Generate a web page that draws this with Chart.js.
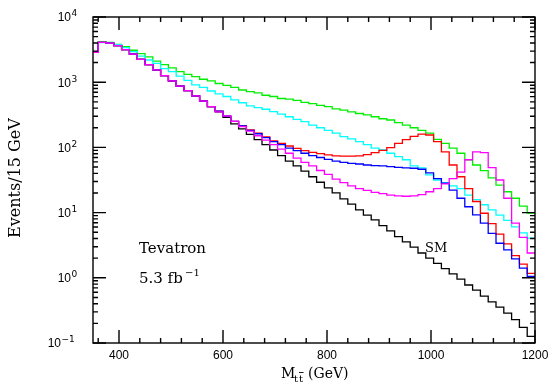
<!DOCTYPE html>
<html>
<head>
<meta charset="utf-8">
<script src="https://cdn.jsdelivr.net/npm/chart.js@4.4.1/dist/chart.umd.min.js"></script>
<style>
  html, body { margin: 0; padding: 0; background: #fff; }
  canvas { display: block; }
</style>
</head>
<body>
<canvas id="myChart" width="556" height="392"></canvas>
<script>
// 15 GeV bins, low edges 345 ... 1185, plus the last upper edge 1200
const binEdges = [345, 360, 375, 390, 405, 420, 435, 450, 465, 480, 495, 510, 525, 540, 555, 570, 585, 600,
  615, 630, 645, 660, 675, 690, 705, 720, 735, 750, 765, 780, 795, 810, 825, 840, 855, 870, 885, 900, 915,
  930, 945, 960, 975, 990, 1005, 1020, 1035, 1050, 1065, 1080, 1095, 1110, 1125, 1140, 1155, 1170, 1185, 1200];

const smValues = [2880, 4070, 3980, 3630, 3160, 2690, 2240, 1860, 1550, 1260,
  1050, 871, 741, 617, 513, 422, 351, 288, 229, 193,
  158, 132, 110, 91.2, 75.0, 61.7, 51.9, 43.2, 35.5, 29.2,
  24.0, 20.0, 16.2, 13.5, 11.0, 9.12, 7.76, 6.31, 5.25, 4.27,
  3.55, 2.95, 2.40, 2.00, 1.66, 1.38, 1.15, 0.955, 0.776, 0.646,
  0.525, 0.427, 0.355, 0.288, 0.229, 0.174, 0.126];

const greenValues = [2880, 4140, 4070, 3800, 3510, 3090, 2750, 2450, 2110, 1860,
  1660, 1450, 1320, 1220, 1110, 1050, 955, 891, 832, 759,
  716, 684, 631, 603, 562, 550, 525, 490, 468, 442,
  422, 389, 372, 351, 331, 316, 295, 275, 263, 240,
  219, 200, 182, 165, 133, 115, 97.7, 81.3, 64.6, 53.7,
  44.0, 34.0, 26.3, 20.9, 16.6, 12.6, 9.8];

const cyanValues = [2880, 4040, 4040, 3760, 3390, 2950, 2510, 2190, 1950, 1620,
  1450, 1240, 1070, 912, 832, 733, 661, 603, 537, 484,
  432, 407, 385, 355, 324, 295, 269, 248, 219, 200,
  182, 166, 146, 135, 123, 110, 97.7, 91.2, 81.3, 72.4,
  64.6, 51.9, 48.4, 38.0, 31.6, 28.8, 25.7, 23.4, 18.6, 15.8,
  13.2, 11.0, 9.12, 7.59, 6.03, 4.90, 4.07];

const redValues = [2880, 4070, 3980, 3630, 3160, 2690, 2240, 1860, 1550, 1260,
  1050, 871, 741, 617, 513, 422, 359, 302, 251, 214,
  186, 166, 145, 126, 115, 105, 96.6, 89.1, 84.1, 80.4,
  76.7, 74.1, 73.3, 73.3, 74.1, 77.6, 83.2, 90.2, 98.9, 115,
  132, 148, 160, 155, 123, 85.1, 53.7, 35.5, 23.4, 14.8,
  9.77, 6.76, 4.68, 3.31, 2.19, 1.62, 1.17];

const blueValues = [2880, 4070, 3980, 3630, 3160, 2690, 2240, 1860, 1550, 1260,
  1050, 871, 741, 617, 513, 422, 359, 302, 251, 214,
  182, 162, 141, 123, 110, 97.7, 89.1, 81.3, 75.0, 70.0,
  65.3, 61.7, 58.9, 56.9, 55.6, 53.7, 52.5, 51.9, 50.7, 49.5,
  48.4, 47.9, 46.2, 40.7, 33.1, 28.2, 22.1, 16.6, 12.3, 9.23,
  6.92, 4.79, 3.39, 2.69, 1.95, 1.41, 1.05];

const magentaValues = [2880, 4070, 3980, 3630, 3160, 2690, 2240, 1860, 1550, 1260,
  1050, 871, 741, 617, 513, 422, 351, 302, 251, 209,
  178, 151, 129, 110, 94.4, 81.3, 68.4, 58.9, 51.9, 44.2,
  38.5, 32.7, 28.8, 25.7, 23.4, 21.9, 20.4, 19.5, 18.6, 18.0,
  17.8, 18.0, 18.8, 20.9, 23.4, 27.5, 33.1, 41.7, 64.6, 85.1,
  83.2, 49.0, 31.6, 16.6, 6.92, 4.17, 2.40];

// axis ticks
const xTickValues = [360, 400, 440, 480, 520, 560, 600, 640, 680, 720, 760, 800, 840, 880, 920, 960,
  1000, 1040, 1080, 1120, 1160, 1200];
const xLabelValues = [400, 600, 800, 1000, 1200];
const yDecades = [0.1, 1, 10, 100, 1000, 10000];
const yExponents = ['\u22121', '0', '1', '2', '3', '4'];
const yMinorSteps = [2, 3, 4, 5, 6, 7, 8, 9];

function histPoints(values) {
  const pts = values.map((v, i) => ({ x: binEdges[i], y: v }));
  pts.push({ x: binEdges[binEdges.length - 1], y: values[values.length - 1] });
  return pts;
}

function hist(values, color, order) {
  return {
    data: histPoints(values),
    borderColor: color,
    borderWidth: 1.3,
    stepped: true,
    pointRadius: 0,
    fill: false,
    clip: 0,
    order: order
  };
}

const frame = {
  id: 'frame',
  afterDatasetsDraw(chart) {
    const { ctx, chartArea: a, scales: { x, y } } = chart;
    ctx.save();
    ctx.strokeStyle = '#000';
    ctx.lineWidth = 1.4;
    ctx.strokeRect(a.left, a.top, a.right - a.left, a.bottom - a.top);
    ctx.beginPath();
    xTickValues.forEach(v => {
      const px = x.getPixelForValue(v);
      const len = xLabelValues.includes(v) ? 13 : 5;
      ctx.moveTo(px, a.bottom); ctx.lineTo(px, a.bottom - len);
      ctx.moveTo(px, a.top); ctx.lineTo(px, a.top + len);
    });
    yDecades.forEach(d => {
      const py = y.getPixelForValue(d);
      ctx.moveTo(a.left, py); ctx.lineTo(a.left + 13, py);
      ctx.moveTo(a.right, py); ctx.lineTo(a.right - 13, py);
      if (d < 10000) {
        yMinorSteps.forEach(m => {
          const pm = y.getPixelForValue(d * m);
          ctx.moveTo(a.left, pm); ctx.lineTo(a.left + 5, pm);
          ctx.moveTo(a.right, pm); ctx.lineTo(a.right - 5, pm);
        });
      }
    });
    ctx.stroke();
    ctx.restore();
  },
  afterDraw(chart) {
    const { ctx, chartArea: a, scales: { x, y } } = chart;
    ctx.save();
    ctx.fillStyle = '#000';

    // x tick labels
    ctx.font = '12px "Liberation Sans"';
    ctx.textAlign = 'center';
    ctx.textBaseline = 'middle';
    xLabelValues.forEach(v => ctx.fillText(String(v), x.getPixelForValue(v), 356));

    // y tick labels 10^n
    ctx.textBaseline = 'middle';
    yDecades.forEach((d, i) => {
      const py = y.getPixelForValue(d);
      const exp = yExponents[i];
      const baseRight = exp.length > 1 ? 61 : 71;
      ctx.font = '12px "Liberation Sans"';
      ctx.textAlign = 'right';
      ctx.fillText('10', baseRight, py + 1);
      ctx.font = '9px "DejaVu Sans"';
      ctx.textAlign = 'left';
      ctx.fillText(exp, baseRight + 0.5, py - 3);
    });

    // axis titles
    ctx.font = '16px "DejaVu Serif"';
    ctx.textAlign = 'center';
    ctx.textBaseline = 'alphabetic';
    ctx.save();
    ctx.translate(20, 178);
    ctx.rotate(-Math.PI / 2);
    ctx.fillText('Events/15 GeV', 0, 0);
    ctx.restore();

    ctx.textAlign = 'left';
    ctx.font = '14px "DejaVu Serif"';
    ctx.fillText('M', 281, 378);
    ctx.font = '10px "DejaVu Serif"';
    ctx.fillText('t', 294, 382);
    ctx.fillText('t', 299, 382);
    ctx.beginPath();
    ctx.lineWidth = 0.9;
    ctx.moveTo(299, 372.5); ctx.lineTo(303.5, 372.5);
    ctx.stroke();
    ctx.font = '14px "DejaVu Serif"';
    ctx.fillText('(GeV)', 308, 378);

    // annotations
    ctx.font = '15px "DejaVu Serif"';
    ctx.fillText('Tevatron', 139, 253);
    ctx.fillText('5.3 fb', 139, 283);
    ctx.font = '10px "DejaVu Serif"';
    ctx.fillText('\u22121', 185, 276);
    ctx.font = '13px "DejaVu Serif"';
    ctx.fillText('SM', 425, 252);
    ctx.restore();
  }
};

new Chart(document.getElementById('myChart'), {
  type: 'line',
  data: {
    datasets: [
      hist(smValues, '#000000', 6),
      hist(greenValues, '#00ee00', 5),
      hist(cyanValues, '#00ffff', 4),
      hist(redValues, '#ff0000', 3),
      hist(blueValues, '#0000ff', 2),
      hist(magentaValues, '#ff00ff', 1)
    ]
  },
  options: {
    responsive: false,
    devicePixelRatio: 1,
    animation: false,
    layout: { padding: { left: 93, right: 21, top: 17, bottom: 49 } },
    scales: {
      x: { type: 'linear', min: 350, max: 1200, display: false },
      y: { type: 'logarithmic', min: 0.1, max: 10000, display: false }
    },
    plugins: {
      legend: { display: false },
      tooltip: { enabled: false }
    }
  },
  plugins: [frame]
});
</script>
</body>
</html>
